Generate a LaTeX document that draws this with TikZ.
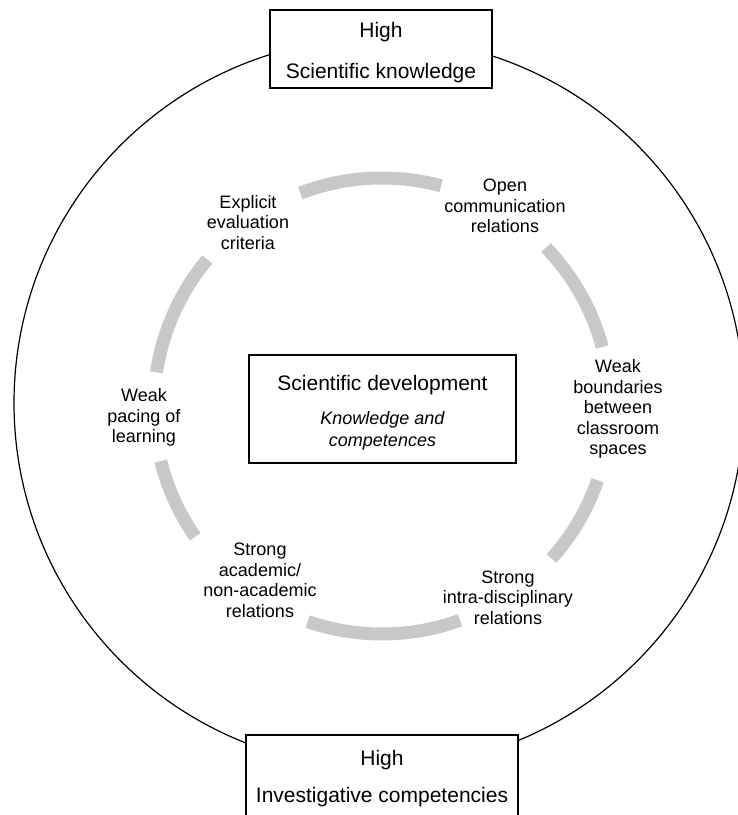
\documentclass[tikz,border=0pt]{standalone}
\usepackage{fontspec}
\setmainfont{Liberation Sans}
\definecolor{ringgray}{RGB}{200,200,200}
\begin{document}
\begin{tikzpicture}[x=1pt,y=1pt,
  boxline/.style={draw=black, line width=1.2pt, fill=white, inner sep=0pt},
  ringarc/.style={draw=ringgray, line width=13pt},
  lbl/.style={align=center, inner sep=0pt, font=\fontsize{18}{20.5}\selectfont},
  boxtext/.style={inner sep=0pt, anchor=base, font=\fontsize{21}{25}\selectfont},
  subtext/.style={inner sep=0pt, align=center, font=\fontsize{18}{22}\selectfont\itshape}]
\useasboundingbox (0,0) rectangle (738,-815);
\clip (0,0) rectangle (738,-815);
\fill[white] (0,0) rectangle (738,-815);
\coordinate (oc) at (379,-403);
\coordinate (ic) at (382,-406);
% outer circle
\draw[line width=1.2pt] (oc) circle[radius=365];
% inner ring arcs
\draw[ringarc] (ic) ++(75:228) arc[start angle=75, end angle=111, radius=228];
\draw[ringarc] (ic) ++(15:228) arc[start angle=15, end angle=44, radius=228];
\draw[ringarc] (ic) ++(-42:228) arc[start angle=-42, end angle=-19, radius=228];
\draw[ringarc] (ic) ++(251:228) arc[start angle=251, end angle=290, radius=228];
\draw[ringarc] (ic) ++(194:228) arc[start angle=194, end angle=215, radius=228];
\draw[ringarc] (ic) ++(140:228) arc[start angle=140, end angle=171.5, radius=228];
% ring labels
\node[lbl] (expl) at (248,-222.5) {Explicit\\evaluation\\criteria};
\node[lbl] (open) at (505,-206) {Open\\communication\\relations};
\node[lbl] (pacing) at (144,-417.5) {Weak\\pacing of\\learning};
\node[lbl] (bound) at (618,-409) {Weak\\boundaries\\between\\classroom\\spaces};
\node[lbl] (acad) at (260,-580.5) {Strong\\academic/\\non-academic\\relations};
\node[lbl] (intra) at (508,-597.5) {Strong\\intra-disciplinary\\relations};
% top box
\node[boxline, minimum width=222pt, minimum height=78pt] (topbox) at (381,-49) {};
\node[boxtext] (tophigh) at (381,-37) {High};
\node[boxtext] (topsci) at (381,-78) {Scientific knowledge};
% bottom box
\node[boxline, minimum width=272pt, minimum height=95pt] (botbox) at (382,-782.5) {};
\node[boxtext] (bothigh) at (382,-765) {High};
\node[boxtext] (botinv) at (382,-802) {Investigative competencies};
% centre box
\node[boxline, minimum width=267pt, minimum height=108pt] (cbox) at (382.5,-409) {};
\node[boxtext] (ctitle) at (382.5,-390.5) {Scientific development};
\node[subtext] (csub) at (382.5,-431) {Knowledge and\\competences};
\end{tikzpicture}
\end{document}
